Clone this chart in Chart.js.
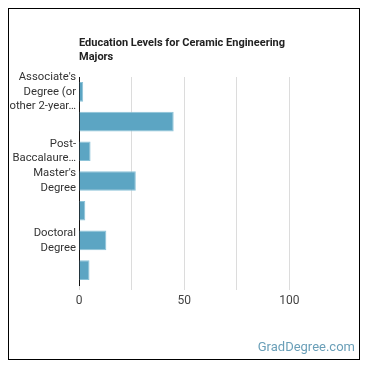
<!DOCTYPE html>
<html>
<head>
<meta charset="utf-8">
<script src="https://cdn.jsdelivr.net/npm/chart.js@4/dist/chart.umd.min.js"></script>
<style>
  html, body { margin: 0; padding: 0; background: #fff; }
  #frame {
    position: absolute; left: 8px; top: 8px;
    width: 350px; height: 350px;
    border: 1px solid #000;
  }
  #wrap { position: absolute; left: 0; top: 0; width: 350px; height: 350px; }
  #mark {
    position: absolute; right: 4px; bottom: 5px;
    font: 13px Roboto, sans-serif; color: #6a9fb8;
  }
</style>
</head>
<body>
<div id="frame">
  <div id="wrap"><canvas id="chart"></canvas></div>
  <div id="mark">GradDegree.com</div>
</div>
<script>
/* data */
const titleLines = ['Education Levels for Ceramic Engineering', 'Majors'];
const labels = [
  ["Associate's", 'Degree (or', 'other 2-year…'],
  '',
  ['Post-', 'Baccalaure…'],
  ["Master's", 'Degree'],
  '',
  ['Doctoral', 'Degree'],
  '',
];
const values = [2, 45, 5.5, 27, 3, 13, 5];
const xTicks = [0, 25, 50, 75, 100, 125];
const xLabelled = [0, 50, 100];

/* title drawn from chartArea.left so it lines up with the axis */
const titlePlugin = {
  id: 'leftTitle',
  afterDraw(chart) {
    const { ctx, chartArea } = chart;
    ctx.save();
    ctx.fillStyle = '#222';
    ctx.font = 'bold 11px Roboto, sans-serif';
    ctx.textBaseline = 'middle';
    titleLines.forEach((t, i) => ctx.fillText(t, chartArea.left, 34 + i * 14));
    ctx.restore();
  },
};

new Chart(document.getElementById('chart'), {
  type: 'bar',
  data: {
    labels,
    datasets: [{
      data: values,
      backgroundColor: '#5ca5c3',
      borderColor: '#8cc3d8',
      borderWidth: 1,
      categoryPercentage: 1,
      barPercentage: 0.66,
    }],
  },
  plugins: [titlePlugin],
  options: {
    indexAxis: 'y',
    responsive: true,
    maintainAspectRatio: false,
    animation: false,
    layout: { padding: { top: 68, right: 17, bottom: 44, left: 0 } },
    plugins: {
      legend: { display: false },
      tooltip: { enabled: false },
    },
    scales: {
      x: {
        min: 0,
        max: 125,
        afterBuildTicks: s => { s.ticks = xTicks.map(v => ({ value: v })); },
        afterFit: s => { s.height = 30; },
        border: { display: false },
        grid: {
          color: c => (c.tick && c.tick.value === 125 ? 'rgba(0,0,0,0)' : '#dcdcdc'),
          tickLength: 5,
        },
        ticks: {
          color: '#444',
          font: { family: 'Roboto', size: 12 },
          padding: 4,
          maxRotation: 0,
          callback: v => (xLabelled.includes(v) ? v : ''),
        },
      },
      y: {
        afterFit: s => { s.width = 70; },
        border: { display: true, color: '#111', width: 1 },
        grid: { display: false, drawTicks: false },
        ticks: {
          color: '#333',
          font: { family: 'Roboto', size: 11.3, lineHeight: 1.3 },
          padding: 3,
          autoSkip: false,
        },
      },
    },
  },
});
</script>
</body>
</html>
